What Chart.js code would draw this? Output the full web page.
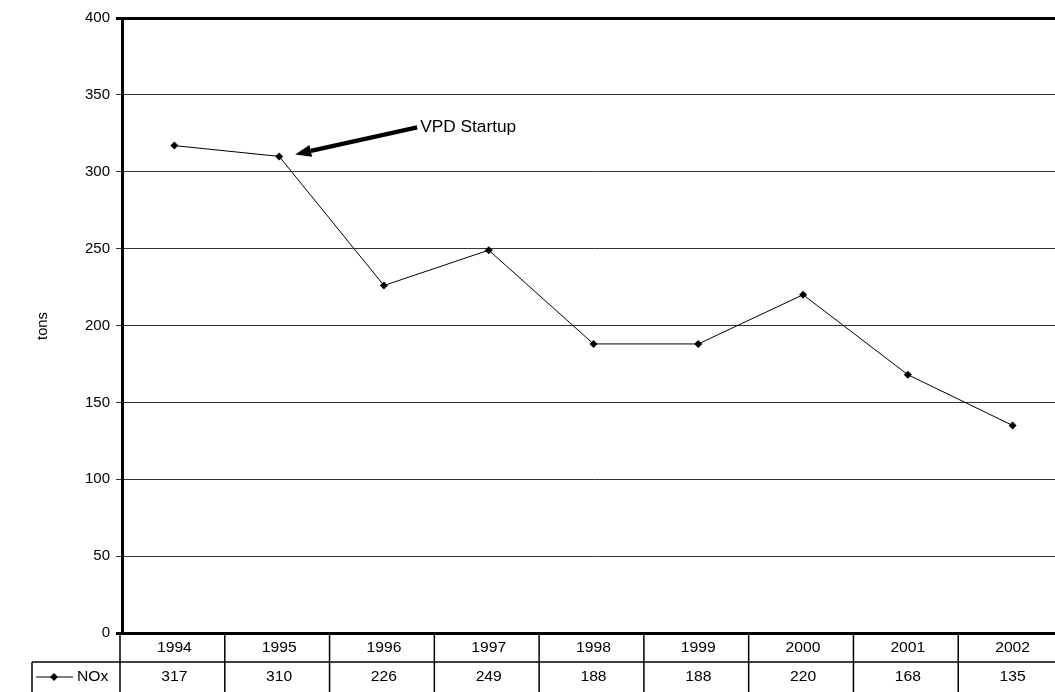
<!DOCTYPE html>
<html>
<head>
<meta charset="utf-8">
<script src="https://cdn.jsdelivr.net/npm/chart.js@4.4.0/dist/chart.umd.min.js"></script>
<style>
  html, body { margin: 0; padding: 0; background: #fff; overflow: hidden; }
  #wrap { width: 1069px; height: 692px; position: relative; }
</style>
</head>
<body>
<div id="wrap"><canvas id="c" width="1069" height="692"></canvas></div>
<script>
const years = ['1994','1995','1996','1997','1998','1999','2000','2001','2002'];
const noxValues = [317, 310, 226, 249, 188, 188, 220, 168, 135];
const seriesName = 'NOx';
const yTicks = [0, 50, 100, 150, 200, 250, 300, 350, 400];
const axisTitle = 'tons';
const annotationText = 'VPD Startup';
const annotationIndex = 1;

const FONT = 'Arial, "Liberation Sans", sans-serif';

function stretchText(ctx, txt, x, y, sx) {
  ctx.save();
  ctx.translate(x, y);
  ctx.scale(sx, 1);
  ctx.fillText(txt, 0, 0);
  ctx.restore();
}

const tablePlugin = {
  id: 'tablePlugin',
  afterDraw(chart) {
    const ctx = chart.ctx;
    const x = chart.scales.x, y = chart.scales.y;
    const area = chart.chartArea;
    const n = years.length;
    const w = (area.right - area.left) / n;
    const top = area.bottom;
    const mid = top + 29;
    const bot = 692;
    ctx.save();
    ctx.strokeStyle = '#000';
    ctx.fillStyle = '#000';
    ctx.lineWidth = 1.5;
    ctx.beginPath();
    ctx.moveTo(32, mid); ctx.lineTo(area.right, mid);
    ctx.stroke();
    ctx.beginPath();
    ctx.moveTo(32, mid); ctx.lineTo(32, bot);
    ctx.stroke();
    for (let i = 0; i <= n; i++) {
      const bx = area.left - 2 + i * w;
      ctx.beginPath();
      ctx.moveTo(bx, top); ctx.lineTo(bx, bot);
      ctx.stroke();
    }
    ctx.font = '14px ' + FONT;
    ctx.textAlign = 'center';
    ctx.textBaseline = 'middle';
    for (let i = 0; i < n; i++) {
      const cx = x.getPixelForValue(i);
      stretchText(ctx, years[i], cx, top + 15, 1.12);
      stretchText(ctx, String(noxValues[i]), cx, mid + 15, 1.12);
    }
    const ly = mid + 15;
    ctx.lineWidth = 1;
    ctx.beginPath();
    ctx.moveTo(36, ly); ctx.lineTo(73, ly);
    ctx.stroke();
    ctx.beginPath();
    ctx.moveTo(54, ly - 4); ctx.lineTo(58, ly); ctx.lineTo(54, ly + 4); ctx.lineTo(50, ly); ctx.closePath();
    ctx.fill();
    ctx.textAlign = 'left';
    stretchText(ctx, seriesName, 77, ly, 1.12);

    ctx.save();
    ctx.translate(43, 326);
    ctx.rotate(-Math.PI / 2);
    ctx.textAlign = 'center';
    ctx.font = '14px ' + FONT;
    ctx.scale(1.05, 1);
    ctx.fillText(axisTitle, 0, 0);
    ctx.restore();

    const px = x.getPixelForValue(annotationIndex);
    const py = y.getPixelForValue(noxValues[annotationIndex]);
    const hx = px + 16, hy = py - 2;
    const tx = px + 138, ty = py - 29;
    const ang = Math.atan2(hy - ty, hx - tx);
    const headLen = 16, headW = 6;
    const bx = hx - headLen * Math.cos(ang), by = hy - headLen * Math.sin(ang);
    ctx.lineWidth = 4.5;
    ctx.beginPath();
    ctx.moveTo(tx, ty); ctx.lineTo(bx, by);
    ctx.stroke();
    ctx.beginPath();
    ctx.moveTo(hx, hy);
    ctx.lineTo(bx + headW * Math.sin(ang), by - headW * Math.cos(ang));
    ctx.lineTo(bx - headW * Math.sin(ang), by + headW * Math.cos(ang));
    ctx.closePath();
    ctx.fill();
    ctx.font = '16px ' + FONT;
    ctx.textAlign = 'left';
    ctx.textBaseline = 'middle';
    stretchText(ctx, annotationText, tx + 3, ty, 1.08);
    ctx.restore();
  }
};

new Chart(document.getElementById('c'), {
  type: 'line',
  data: {
    labels: years,
    datasets: [{
      label: seriesName,
      data: noxValues,
      borderColor: '#000',
      backgroundColor: '#000',
      borderWidth: 1,
      pointStyle: 'rectRot',
      pointRadius: 4,
      pointBorderWidth: 0,
      tension: 0
    }]
  },
  options: {
    responsive: false,
    animation: false,
    layout: { padding: { top: 18, left: 0, right: 0, bottom: 0 } },
    plugins: { legend: { display: false }, tooltip: { enabled: false } },
    scales: {
      x: {
        offset: true,
        grid: { display: false },
        border: { display: false },
        ticks: { display: false },
        afterFit(s) { s.height = 59; }
      },
      y: {
        min: 0, max: 400,
        afterBuildTicks(s) { s.ticks = yTicks.map(v => ({ value: v })); },
        afterFit(s) { s.width = 122; },
        border: { display: true, color: '#000', width: 3 },
        grid: {
          color: (c) => (c.tick && (c.tick.value === 400 || c.tick.value === 0)) ? '#000' : '#333',
          lineWidth: (c) => (c.tick && (c.tick.value === 400 || c.tick.value === 0)) ? 3 : 1,
          tickLength: 6
        },
        ticks: {
          color: '#000',
          padding: 6,
          font: { size: 15, family: FONT }
        }
      }
    }
  },
  plugins: [tablePlugin]
});
</script>
</body>
</html>
